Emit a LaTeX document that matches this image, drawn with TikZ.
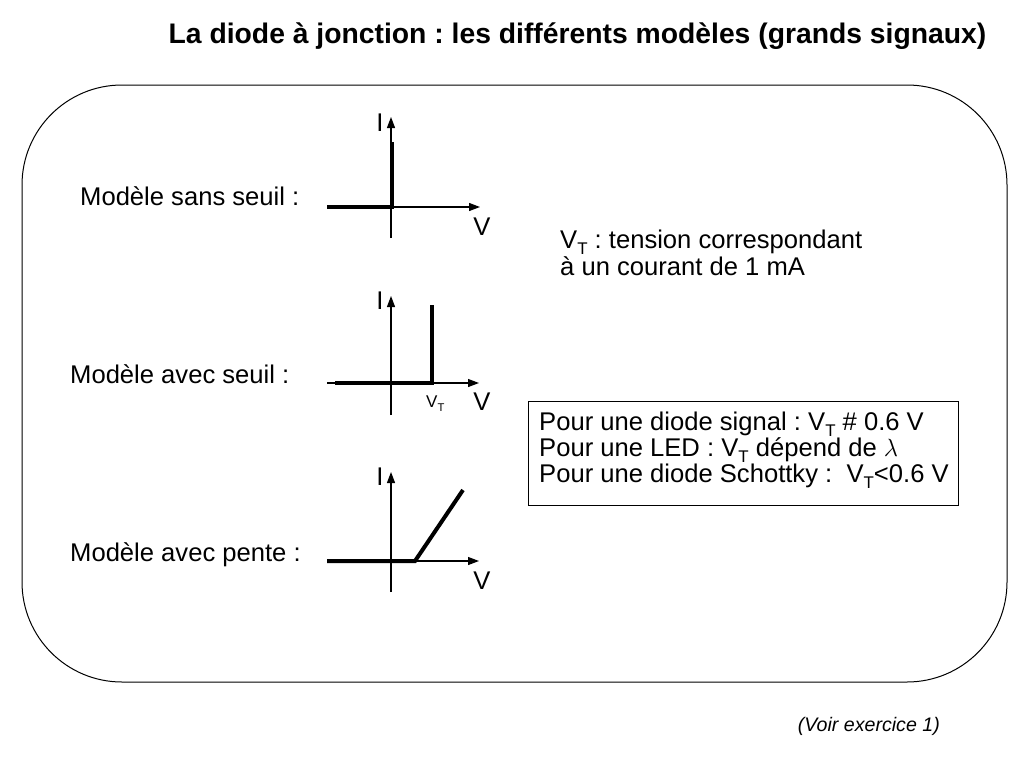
\documentclass[tikz,border=0pt]{standalone}
\usepackage{fontspec}
\setmainfont{Liberation Sans}
\usetikzlibrary{arrows.meta}
\frenchspacing
\newcommand\vsub[1]{\raisebox{-0.27em}{\scalebox{0.66}{#1}}}
\begin{document}
\begin{tikzpicture}[x=1pt,y=-1pt,
  frame/.style={line width=1pt,rounded corners=100pt},
  axis/.style={line width=1.2pt,-{Triangle[length=11pt,width=8pt]}},
  plain/.style={line width=1.2pt},
  curve/.style={line width=4pt,line join=miter},
  txt/.style={inner sep=0pt,font=\fontsize{25.6}{28}\selectfont},
  small/.style={inner sep=0pt,font=\fontsize{17}{20}\selectfont},
  titlefont/.style={inner sep=0pt,font=\fontsize{28.3}{32}\selectfont\bfseries},
  note/.style={inner sep=0pt,font=\fontsize{19.6}{22}\selectfont\itshape},
  infobox/.style={draw,line width=1pt,inner sep=0pt}
]
\useasboundingbox (0,0) rectangle (1024,768);

% title
\node[titlefont,anchor=base] (title) at (577.5,44) {La diode à jonction : les différents modèles (grands signaux)};

% frame
\draw[frame] (22,85) rectangle (1007,682);

% ---------- graph 1 : sans seuil
\coordinate (o1) at (391,207);
\coordinate (b1) at (391,238);
\coordinate (t1) at (391,117);
\coordinate (r1) at (480,207);
\coordinate (l1) at (327,207);
\coordinate (k1) at (392,207);
\coordinate (u1) at (392,142);
\draw[plain] (b1) -- (o1);
\draw[axis] (o1) -- (t1);
\draw[axis] (o1) -- (r1);
\draw[curve] (l1) -- (k1) -- (u1);
\node[txt,anchor=base] (I1) at (380,131) {I};
\node[txt,anchor=base] (V1) at (482,235) {V};
\node[txt,anchor=base west] (m1) at (80,205) {Modèle sans seuil :};

% ---------- graph 2 : avec seuil
\coordinate (o2) at (391,383);
\coordinate (b2) at (391,415);
\coordinate (t2) at (391,296);
\coordinate (r2) at (479,383);
\coordinate (l2) at (327,383);
\coordinate (s2) at (335,383);
\coordinate (k2) at (432,383);
\coordinate (u2) at (432,305);
\draw[plain] (b2) -- (o2);
\draw[axis] (o2) -- (t2);
\draw[axis] (l2) -- (r2);
\draw[curve] (s2) -- (k2) -- (u2);
\node[txt,anchor=base] (I2) at (380,309) {I};
\node[txt,anchor=base] (V2) at (482,410) {V};
\node[small,anchor=base west] (vt2) at (426,407) {V\vsub{T}};
\node[txt,anchor=base west] (m2) at (70,383) {Modèle avec seuil :};

% ---------- graph 3 : avec pente
\coordinate (o3) at (391,561);
\coordinate (b3) at (391,592);
\coordinate (t3) at (391,472);
\coordinate (r3) at (479,561);
\coordinate (l3) at (327,561);
\coordinate (k3) at (415,561);
\coordinate (u3) at (463,490);
\draw[plain] (b3) -- (o3);
\draw[axis] (o3) -- (t3);
\draw[axis] (l3) -- (r3);
\draw[curve] (l3) -- (k3) -- (u3);
\node[txt,anchor=base] (I3) at (380,485) {I};
\node[txt,anchor=base] (V3) at (482,589) {V};
\node[txt,anchor=base west] (m3) at (70,561) {Modèle avec pente :};

% ---------- explanation
\node[txt,anchor=base west] (def1) at (560,248) {V\vsub{T} : tension correspondant};
\node[txt,anchor=base west] (def2) at (560,275) {à un courant de 1 mA};

% ---------- info box
\node[infobox,minimum width=430pt,minimum height=104pt] (box) at (743,453) {};
\node[txt,anchor=base west] (info1) at (539,430) {Pour une diode signal : V\vsub{T} \# 0.6 V};
\node[txt,anchor=base west] (info2) at (539,456) {Pour une LED : V\vsub{T} dépend de $\lambda$};
\node[txt,anchor=base west] (info3) at (539,482) {Pour une diode Schottky :\ \ V\vsub{T}<0.6 V};

% ---------- footnote
\node[note,anchor=base east] (voir) at (940,731) {(Voir exercice 1)};
\end{tikzpicture}
\end{document}
